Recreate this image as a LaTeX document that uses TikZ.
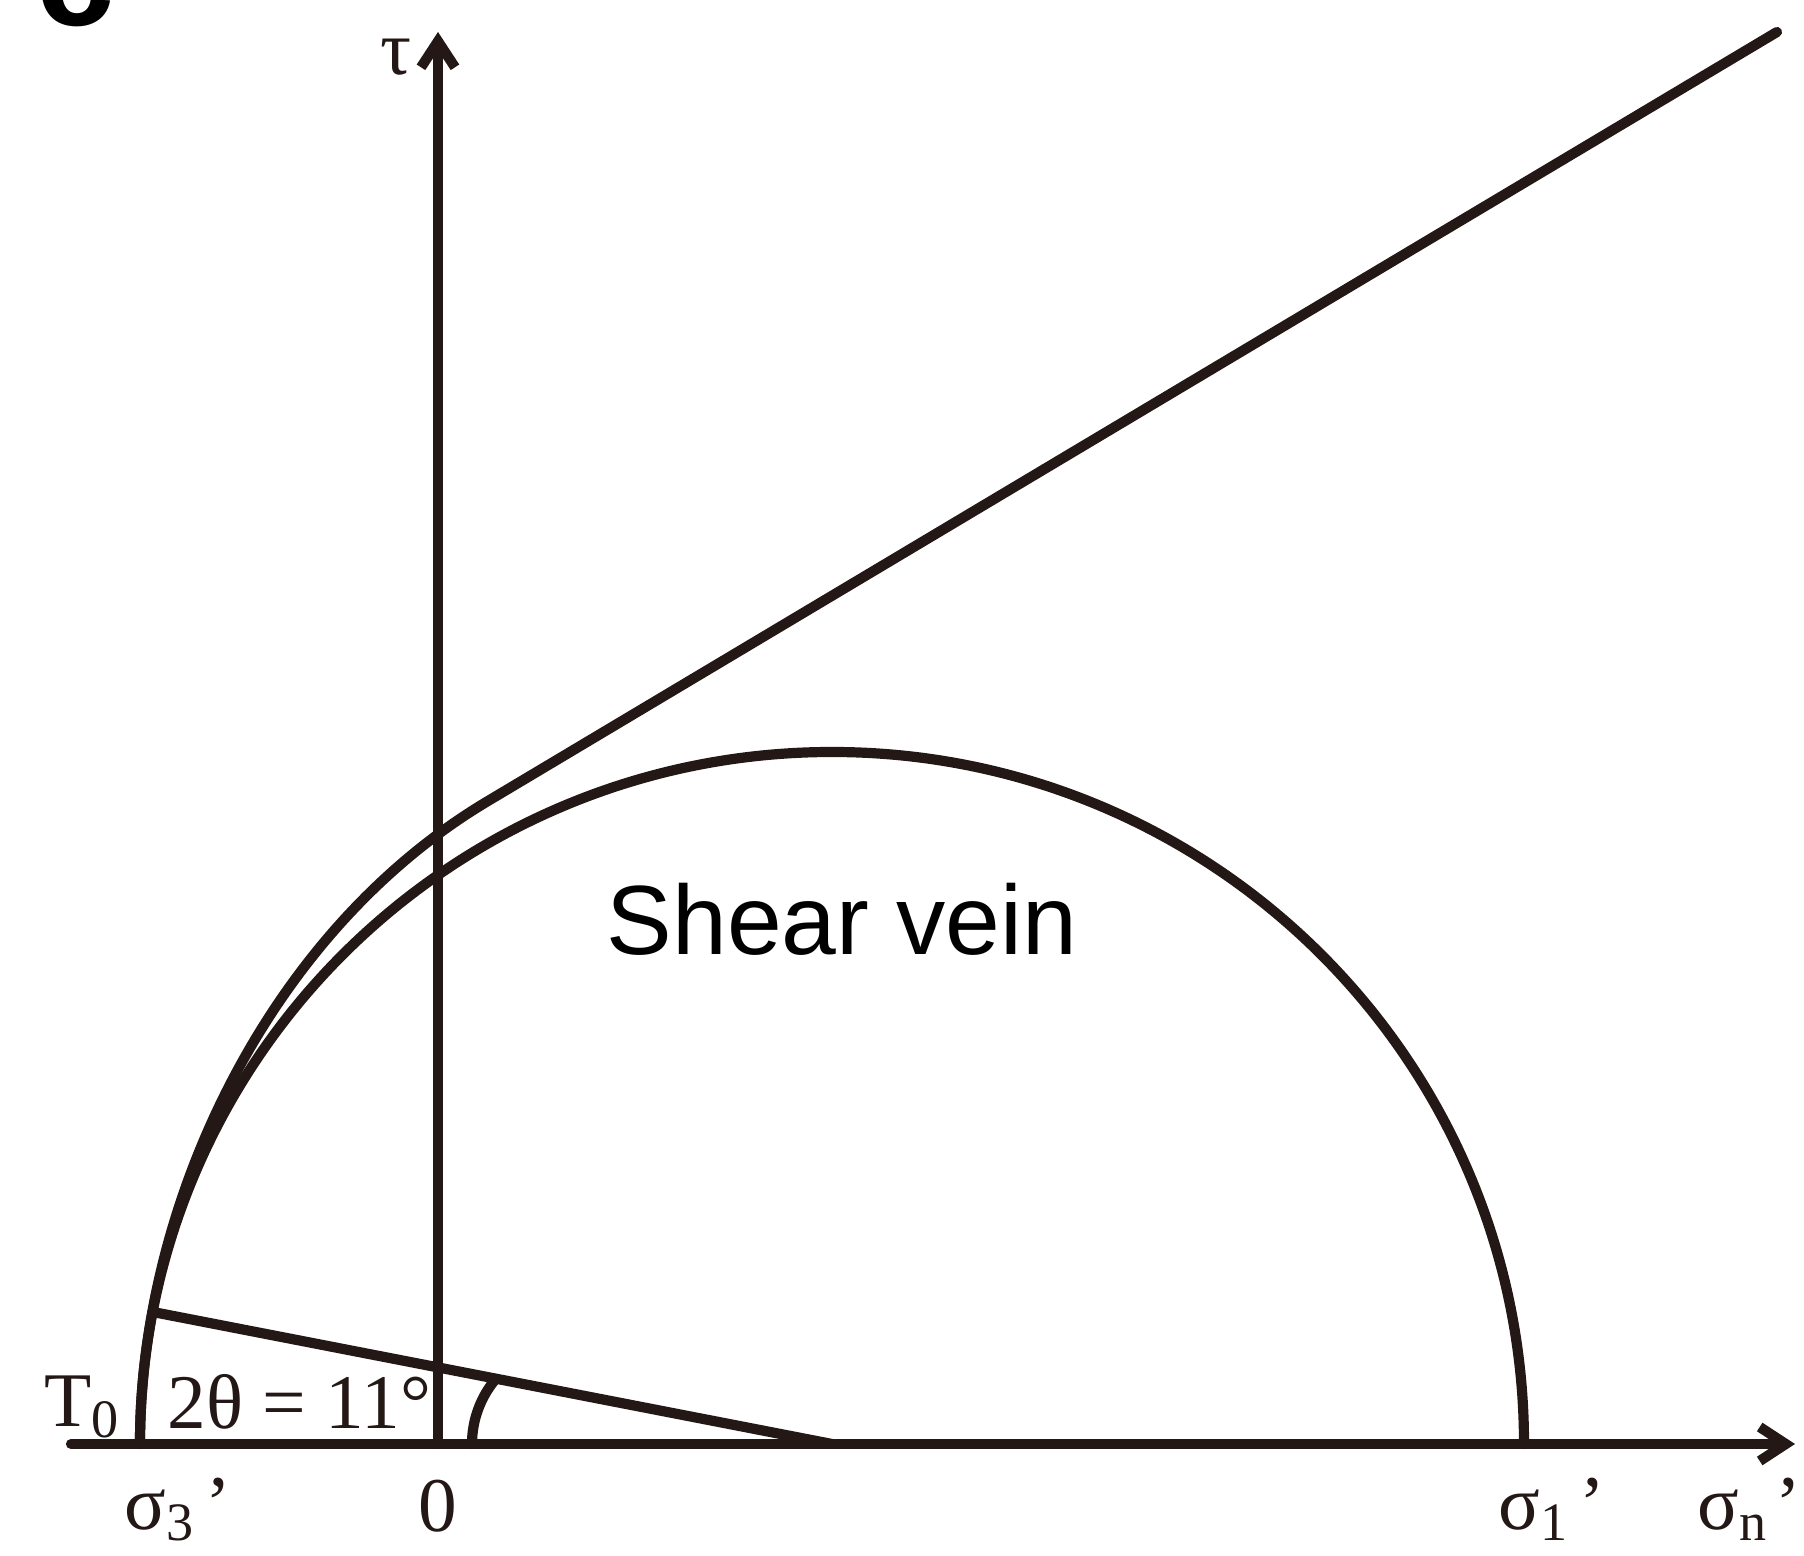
\documentclass[tikz,border=0pt]{standalone}
\usepackage{fontspec}
\setmainfont{Liberation Serif}
\newfontfamily\labelsans{Liberation Sans}
\usetikzlibrary{arrows.meta}
\definecolor{inkc}{HTML}{231815}
\begin{document}
\begin{tikzpicture}[
  line cap=round,
  line join=round,
  ink/.style={draw=inkc, line width=2.9pt},
  lbl/.style={inner sep=0pt, text=inkc, font=\fontsize{22}{26}\selectfont},
  axisarrow/.style={-{Straight Barb[length=2.6mm,width=3.4mm,line width=2.9pt]}}
]
  \useasboundingbox (-4.38,-1.12) rectangle (13.66,14.44);
  \clip (-4.38,-1.12) rectangle (13.66,14.44);

  % Оси
  \coordinate (O) at (0,0);
  \coordinate (L) at (-3.67,0);
  \coordinate (R) at (13.57,0);
  \coordinate (T) at (0,14.12);

  % Круг Мора
  \coordinate (Cm) at (3.94,0);
  \coordinate (P) at ([shift={(169:6.92)}]Cm); % точка касания

  % Огибающая
  \coordinate (E0) at (-2.98,0);
  \coordinate (E1) at (0.5,6.43);
  \coordinate (E2) at (13.39,14.12);

  % Полукруг
  \draw[ink] ([shift={(180:6.92)}]Cm) arc[start angle=180,end angle=0,radius=6.92];

  % Огибающая прочности
  \draw[ink] (E0) .. controls (-2.98,2.4) and (-1.7,5.12) .. (E1) -- (E2);

  % Радиус и угол 2θ
  \draw[ink] (Cm) -- (P);
  \draw[ink] (0.34,0) arc[start angle=180,end angle=140,radius=1.01];

  % Оси координат
  \draw[ink, axisarrow] (L) -- (R);
  \draw[ink, axisarrow] (O) -- (T);

  % Подписи
  \node[lbl, anchor=base west] (tau) at (-0.58,13.69) {τ};
  \node[lbl, anchor=base west] (tzero) at (-3.94,0.17) {T\textsubscript{0}};
  \node[lbl, anchor=base west] (angle) at (-2.71,0.15) {2θ = 11°};
  \node[lbl, anchor=base west] (s3) at (-3.14,-0.86) {σ\textsubscript{3}\kern3pt’};
  \node[lbl, anchor=base] (zero) at (0,-0.88) {0};
  \node[lbl, anchor=base west] (s1) at (10.60,-0.86) {σ\textsubscript{1}\kern3pt’};
  \node[lbl, anchor=base west] (sn) at (12.59,-0.86) {σ\textsubscript{n}\kern2pt’};
  \node[inner sep=0pt, anchor=base west, font=\labelsans\fontsize{28}{32}\selectfont]
    (vein) at (1.68,4.89) {Shear vein};

  % Метка панели
  \node[inner sep=0pt, anchor=base west, font=\labelsans\bfseries\fontsize{40}{46}\selectfont]
    (panel) at (-4.02,14.18) {c};
\end{tikzpicture}
\end{document}
